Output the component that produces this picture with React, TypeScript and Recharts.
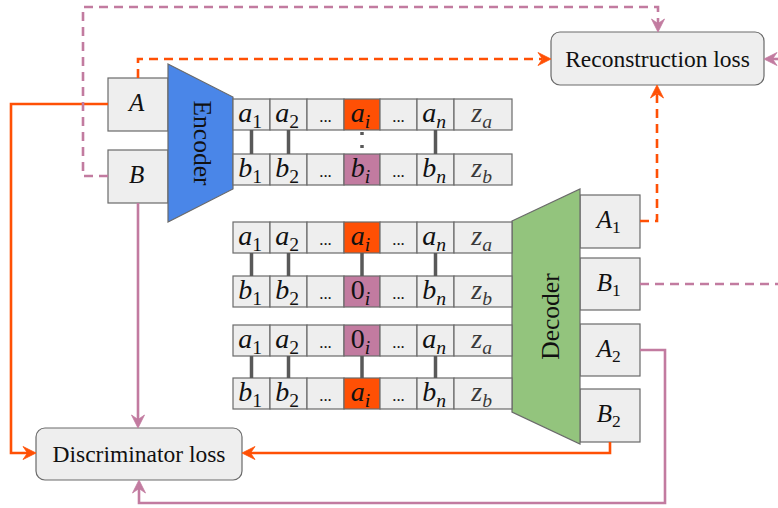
import { ComposedChart, XAxis, YAxis, Line, ReferenceArea, ReferenceLine, ReferenceDot } from "recharts"

// labels
type Tok = [string, string]
const aTokens: Tok[] = [["a", "1"], ["a", "2"], ["...", ""], ["a", "i"], ["...", ""], ["a", "n"], ["z", "a"]]
const bTokens: Tok[] = [["b", "1"], ["b", "2"], ["...", ""], ["b", "i"], ["...", ""], ["b", "n"], ["z", "b"]]
const zeroToken: Tok = ["0", "i"]
const swapColumn = 3
const linkedColumns = [0, 1, 3, 5]
const inputs = ["A", "B"]
const outputs: Tok[] = [["A", "1"], ["B", "1"], ["A", "2"], ["B", "2"]]
const lossNames = ["Reconstruction loss", "Discriminator loss"]
const blockNames = ["Encoder", "Decoder"]

const ORANGE = "#ff5005"
const PINK = "#c27ba0"
const CELL = "#eeeeee"
const EDGE = "#6a6a6a"
const LINK = "#595959"
const SERIF = "Liberation Serif, Times New Roman, DejaVu Serif, serif"

// layout (pixel units of the hidden axes)
const colEdges = [233, 270, 307, 344, 380, 417, 454, 512]
const rowTops = [99, 154, 222, 276, 325, 378]
const rowH = 31
// which token row and which swap cell each row shows
const rows = [
  { tokens: aTokens, swap: aTokens[swapColumn], fill: ORANGE },
  { tokens: bTokens, swap: bTokens[swapColumn], fill: PINK },
  { tokens: aTokens, swap: aTokens[swapColumn], fill: ORANGE },
  { tokens: bTokens, swap: zeroToken, fill: PINK },
  { tokens: aTokens, swap: zeroToken, fill: PINK },
  { tokens: bTokens, swap: aTokens[swapColumn], fill: ORANGE },
]
const inputBoxes = [
  { x1: 108, x2: 168, y1: 78, y2: 131 },
  { x1: 108, x2: 168, y1: 150, y2: 203 },
]
const outputBoxes = [
  { x1: 580, x2: 640, y1: 195, y2: 248 },
  { x1: 580, x2: 640, y1: 258, y2: 310 },
  { x1: 580, x2: 640, y1: 324, y2: 376 },
  { x1: 580, x2: 640, y1: 389, y2: 442 },
]
const lossBoxes = [
  { x1: 551, x2: 764, y1: 32, y2: 85 },
  { x1: 36, x2: 242, y1: 428, y2: 480 },
]

type Pt = { x: number; y: number }
const p = (x: number, y: number): Pt => ({ x, y })
const routes: { pts: Pt[]; color: string; dashed: boolean }[] = [
  { pts: [p(108, 104), p(11, 104), p(11, 453), p(28, 453)], color: ORANGE, dashed: false },
  { pts: [p(138, 78), p(138, 59), p(542, 59)], color: ORANGE, dashed: true },
  { pts: [p(108, 176), p(83, 176), p(83, 7), p(658, 7), p(658, 24)], color: PINK, dashed: true },
  { pts: [p(138, 203), p(138, 420)], color: PINK, dashed: false },
  { pts: [p(640, 221), p(657, 221), p(657, 93)], color: ORANGE, dashed: true },
  { pts: [p(640, 284), p(778, 284)], color: PINK, dashed: true },
  { pts: [p(778, 59), p(772, 59)], color: PINK, dashed: false },
  { pts: [p(640, 350), p(665, 350), p(665, 503), p(139, 503), p(139, 488)], color: PINK, dashed: false },
  { pts: [p(610, 442), p(610, 453), p(250, 453)], color: ORANGE, dashed: false },
]
// arrow tips: x, y, angle (0 = right, 90 = down)
const arrows = [
  { x: 36, y: 453, a: 0, color: ORANGE },
  { x: 551, y: 59, a: 0, color: ORANGE },
  { x: 658, y: 32, a: 90, color: PINK },
  { x: 138, y: 428, a: 90, color: PINK },
  { x: 657, y: 85, a: 270, color: ORANGE },
  { x: 764, y: 59, a: 180, color: PINK },
  { x: 139, y: 480, a: 270, color: PINK },
  { x: 242, y: 453, a: 180, color: ORANGE },
]

const isUpright = (s: string) => /^[0-9.]+$/.test(s)

function MathText({ cx, cy, tok, size, color = "#111" }: { cx: number; cy: number; tok: Tok; size: number; color?: string }) {
  const [base, sub] = tok
  if (base === "...") {
    return (
      <text x={cx} y={cy + size * 0.27} textAnchor="middle" fontFamily={SERIF} fontSize={size * 0.6} fill={color}>
        ...
      </text>
    )
  }
  return (
    <text x={cx - size * 0.05} y={cy + size * 0.27} textAnchor="middle" fontFamily={SERIF} fontSize={size} fill={color}>
      <tspan fontStyle={isUpright(base) ? "normal" : "italic"}>{base}</tspan>
      {sub ? (
        <tspan fontSize={size * 0.7} dy={size * 0.2} fontStyle={isUpright(sub) ? "normal" : "italic"}>
          {sub}
        </tspan>
      ) : null}
    </text>
  )
}

function cellArea(key: string, x1: number, x2: number, y1: number, y2: number, fill: string, tok: Tok, size: number, color?: string) {
  return (
    <ReferenceArea
      key={key}
      x1={x1}
      x2={x2}
      y1={y1}
      y2={y2}
      shape={(s: any) => (
        <g>
          <rect x={s.x} y={s.y} width={s.width} height={s.height} fill={fill} stroke={EDGE} strokeWidth={1.2} />
          <MathText cx={s.x + s.width / 2} cy={s.y + s.height / 2} tok={tok} size={size} color={color} />
        </g>
      )}
    />
  )
}

function lossArea(key: string, b: { x1: number; x2: number; y1: number; y2: number }, label: string) {
  return (
    <ReferenceArea
      key={key}
      x1={b.x1}
      x2={b.x2}
      y1={b.y1}
      y2={b.y2}
      shape={(s: any) => (
        <g>
          <rect x={s.x} y={s.y} width={s.width} height={s.height} rx={9} fill={CELL} stroke={EDGE} strokeWidth={1.2} />
          <text x={s.x + s.width / 2} y={s.y + s.height / 2 + 8} textAnchor="middle" fontFamily={SERIF} fontSize={23.5} fill="#111">
            {label}
          </text>
        </g>
      )}
    />
  )
}

// trapezoid: inset is how far the short side is pulled in at top and bottom
function blockArea(key: string, x1: number, x2: number, y1: number, y2: number, fill: string, label: string, shortSide: "left" | "right", inset: number) {
  return (
    <ReferenceArea
      key={key}
      x1={x1}
      x2={x2}
      y1={y1}
      y2={y2}
      shape={(s: any) => {
        const { x, y, width: w, height: h } = s
        const d =
          shortSide === "right"
            ? `M${x},${y} L${x + w},${y + inset} L${x + w},${y + h - inset} L${x},${y + h} Z`
            : `M${x},${y + inset} L${x + w},${y} L${x + w},${y + h} L${x},${y + h - inset} Z`
        const cx = x + w / 2 + (shortSide === "right" ? 2 : 4)
        const cy = y + h / 2
        const rot = shortSide === "right" ? 90 : -90
        return (
          <g>
            <path d={d} fill={fill} stroke={EDGE} strokeWidth={1.2} />
            <text x={cx} y={cy} transform={`rotate(${rot} ${cx} ${cy})`} textAnchor="middle" dominantBaseline="central" fontFamily={SERIF} fontSize={25.5} fill="#111">
              {label}
            </text>
          </g>
        )
      }}
    />
  )
}

export default function App() {
  const cells: any[] = []
  rows.forEach((row, r) => {
    row.tokens.forEach((tok, c) => {
      const swap = c === swapColumn
      cells.push(
        cellArea(
          `c${r}-${c}`,
          colEdges[c],
          colEdges[c + 1],
          rowTops[r],
          rowTops[r] + rowH,
          swap ? row.fill : CELL,
          swap ? row.swap : tok,
          28,
          tok[0] === "z" ? "#3a3a3a" : "#111"
        )
      )
    })
  })

  const links: any[] = []
  for (let pair = 0; pair < 3; pair++) {
    const top = rowTops[pair * 2] + rowH
    const bottom = rowTops[pair * 2 + 1]
    linkedColumns.forEach((c) => {
      const x = (colEdges[c] + colEdges[c + 1]) / 2
      const dotted = pair === 0 && c === swapColumn
      links.push(
        <ReferenceLine
          key={`l${pair}-${c}`}
          segment={dotted ? [{ x, y: top + 2 }, { x, y: bottom - 4 }] : [{ x, y: top }, { x, y: bottom }]}
          stroke={LINK}
          strokeWidth={3.5}
          strokeDasharray={dotted ? "3 10" : undefined}
        />
      )
    })
  }

  return (
    <div style={{ position: "absolute", left: 0, top: 0, background: "#fff" }}>
      <ComposedChart width={778} height={508} margin={{ top: 0, right: 0, bottom: 0, left: 0 }}>
        <XAxis type="number" dataKey="x" domain={[0, 778]} hide allowDataOverflow />
        <YAxis type="number" dataKey="y" domain={[0, 508]} reversed hide allowDataOverflow />

        {routes.map((rt, i) => (
          <Line
            key={`r${i}`}
            data={rt.pts}
            dataKey="y"
            type="linear"
            stroke={rt.color}
            strokeWidth={2.6}
            strokeDasharray={rt.dashed ? "9 6" : undefined}
            dot={false}
            activeDot={false}
            isAnimationActive={false}
          />
        ))}

        {inputBoxes.map((b, i) => cellArea(`in${i}`, b.x1, b.x2, b.y1, b.y2, CELL, [inputs[i], ""], 25))}
        {outputBoxes.map((b, i) => cellArea(`out${i}`, b.x1, b.x2, b.y1, b.y2, CELL, outputs[i], 25))}
        {blockArea("enc", 168, 233, 64, 222, "#4a86e8", blockNames[0], "right", 33)}
        {blockArea("dec", 512, 580, 189, 444, "#93c47d", blockNames[1], "left", 32)}
        {cells}
        {links}
        {lossBoxes.map((b, i) => lossArea(`loss${i}`, b, lossNames[i]))}

        {arrows.map((a, i) => (
          <ReferenceDot
            key={`a${i}`}
            x={a.x}
            y={a.y}
            r={1}
            shape={(s: any) => (
              <path
                d="M0,0 L-13,-6.5 L-8.5,0 L-13,6.5 Z"
                transform={`translate(${s.cx},${s.cy}) rotate(${a.a})`}
                fill={a.color}
                stroke={a.color}
                strokeWidth={0.8}
                strokeLinejoin="miter"
              />
            )}
          />
        ))}
      </ComposedChart>
    </div>
  )
}
